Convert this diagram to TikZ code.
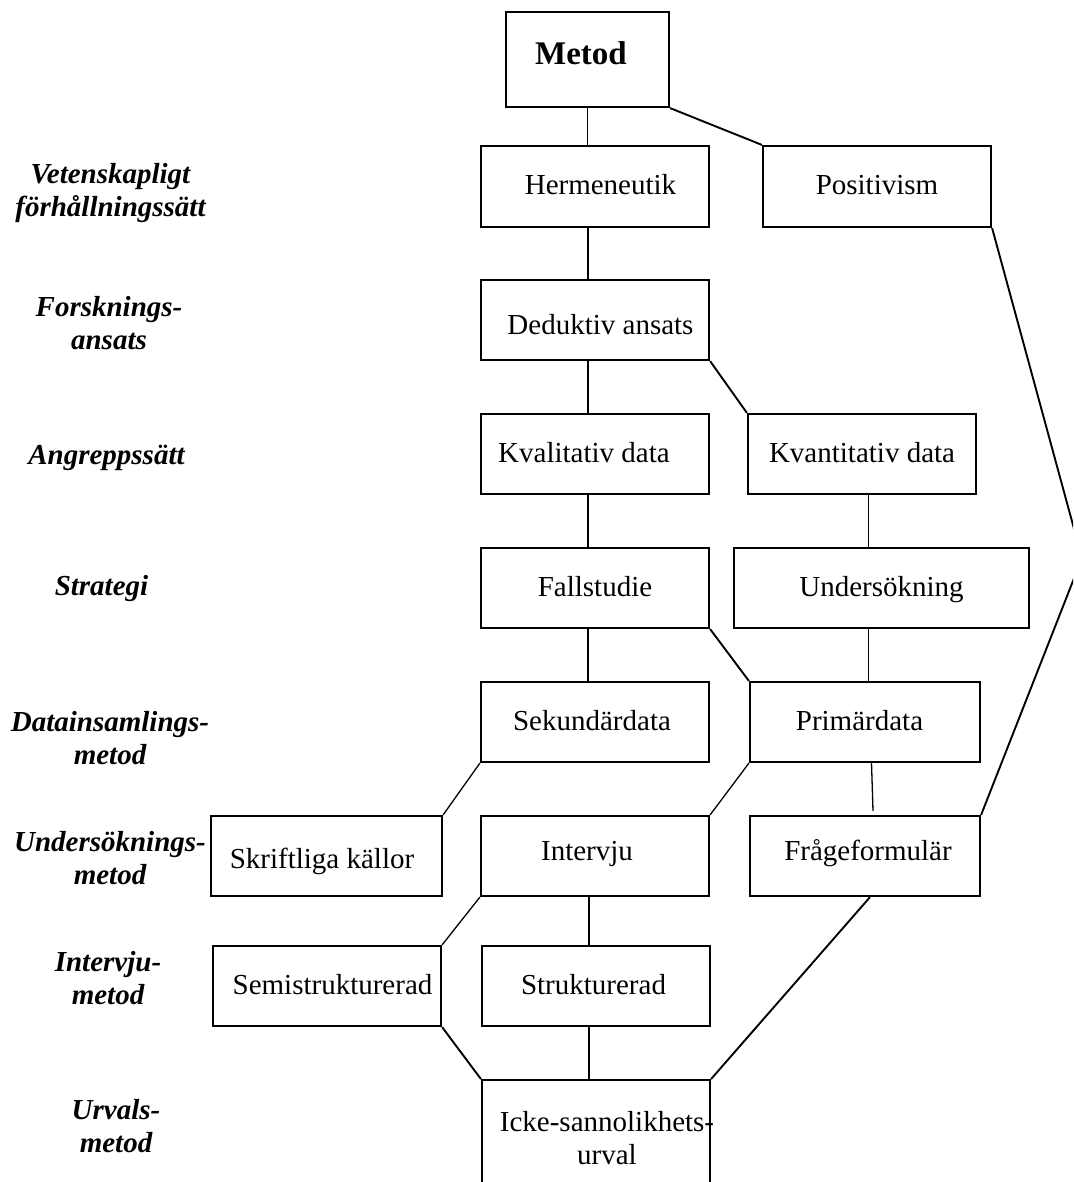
\documentclass[tikz,border=0pt]{standalone}
\usepackage{fontspec}
\setmainfont{Liberation Serif}
% centre a text on the node centre shifted sideways by #1
\newcommand{\offx}[2]{\makebox[0pt]{\hspace*{#1}\hspace*{#1}#2}}
\begin{document}
\begin{tikzpicture}[x=1pt,y=-1pt,
  box/.style={draw, line width=2.2pt, minimum width=228pt, minimum height=80pt,
    inner sep=0pt, font=\fontsize{29}{33}\selectfont,
    text height=20pt, text depth=4pt},
  link/.style={line width=1.9pt},
  thinlink/.style={line width=1.3pt},
  tier/.style={font=\bfseries\itshape\fontsize{29}{33}\selectfont,
    align=center, inner sep=0pt}]
\useasboundingbox (0,0) rectangle (1073,1182);
\clip (0,0) rectangle (1073,1182);

% ---- boxes ----
\node[box, minimum width=163pt, minimum height=95pt,
  font=\bfseries\fontsize{33}{38}\selectfont, text height=22pt, text depth=11pt]
  (metod) at (587.5,59.5) {\offx{-6.5pt}{Metod}};
\node[box, minimum height=81pt] (herm) at (595,186.5) {\offx{5.5pt}{Hermeneutik}};
\node[box, minimum height=81pt] (posit) at (877,186.5) {Positivism};
\node[box, text height=28pt, text depth=0pt] (dedu) at (595,320) {\offx{5.5pt}{Deduktiv ansats}};
\node[box] (kval) at (595,454) {\offx{-11pt}{Kvalitativ data}};
\node[box] (kvant) at (862,454) {Kvantitativ data};
\node[box] (fall) at (595,588) {Fallstudie};
\node[box, minimum width=295pt] (unders) at (881.5,588) {Undersökning};
\node[box] (sekund) at (595,722) {\offx{-3pt}{Sekundärdata}};
\node[box, minimum width=230pt] (prim) at (865,722) {\offx{-5.5pt}{Primärdata}};
\node[box, minimum width=231pt, text height=24pt, text depth=0pt]
  (skrift) at (326.5,856) {\offx{-4.5pt}{Skriftliga källor}};
\node[box, text depth=12pt] (interv) at (595,856) {\offx{-8pt}{Intervju}};
\node[box, minimum width=230pt, text depth=12pt] (fraga) at (865,856) {\offx{3pt}{Frågeformulär}};
\node[box] (semi) at (327,986) {\offx{5.5pt}{Semistrukturerad}};
\node[box] (strukt) at (596,986) {\offx{-2.5pt}{Strukturerad}};
\node[box, anchor=north, align=center, text height={}, text depth={},
  inner ysep=31pt, minimum height=0pt]
  (icke) at (596,1079) {\offx{11pt}{Icke-sannolikhets-}\\\offx{11pt}{urval}};

% ---- level captions ----
\node[tier] (capA) at (110.5,192.6) {Vetenskapligt\\förhållningssätt};
\node[tier] (capB) at (109,323.5) {Forsknings-\\ansats};
\node[tier, anchor=base] (capC) at (106.5,464) {Angreppssätt};
\node[tier, anchor=base] (capD) at (101.5,595) {Strategi};
\node[tier] (capE) at (110,738.5) {Datainsamlings-\\metod};
\node[tier] (capF) at (110,858.5) {Undersöknings-\\metod};
\node[tier] (capG) at (108,978.5) {Intervju-\\metod};
\node[tier] (capH) at (116,1126.5) {Urvals-\\metod};

% ---- connectors ----
\coordinate (spine) at (588,0);
\coordinate (spineb) at (589,0);
\coordinate (rspine) at (868.5,0);
\coordinate (apex) at (1082,558);

\draw[link] (metod.south) -- (metod.south |- herm.north);
\draw[link] (metod.south east) -- (posit.north west);
\draw[link] (herm.south -| spine) -- (dedu.north -| spine);
\draw[link] (dedu.south -| spine) -- (kval.north -| spine);
\draw[link] (dedu.south east) -- (kvant.north west);
\draw[link] (kval.south -| spine) -- (fall.north -| spine);
\draw[link] (kvant.south -| rspine) -- (unders.north -| rspine);
\draw[link] (fall.south -| spine) -- (sekund.north -| spine);
\draw[link] (fall.south east) -- (prim.north west);
\draw[link] (unders.south -| rspine) -- (prim.north -| rspine);
\draw[thinlink] (sekund.south west) -- (skrift.north east);
\draw[thinlink] (prim.south west) -- (interv.north east);
\draw[thinlink] ([xshift=6.5pt]prim.south) -- ([xshift=8pt,yshift=4pt]fraga.north);
\draw[link] (posit.south east) -- (apex) -- (fraga.north east);
\draw[thinlink] (interv.south west) -- (semi.north east);
\draw[thinlink] (interv.south -| spineb) -- (strukt.north -| spineb);
\draw[link] (semi.south east) -- (icke.north west);
\draw[link] (strukt.south -| spineb) -- (icke.north -| spineb);
\draw[link] ([xshift=5pt]fraga.south) -- (icke.north east);
\end{tikzpicture}
\end{document}
